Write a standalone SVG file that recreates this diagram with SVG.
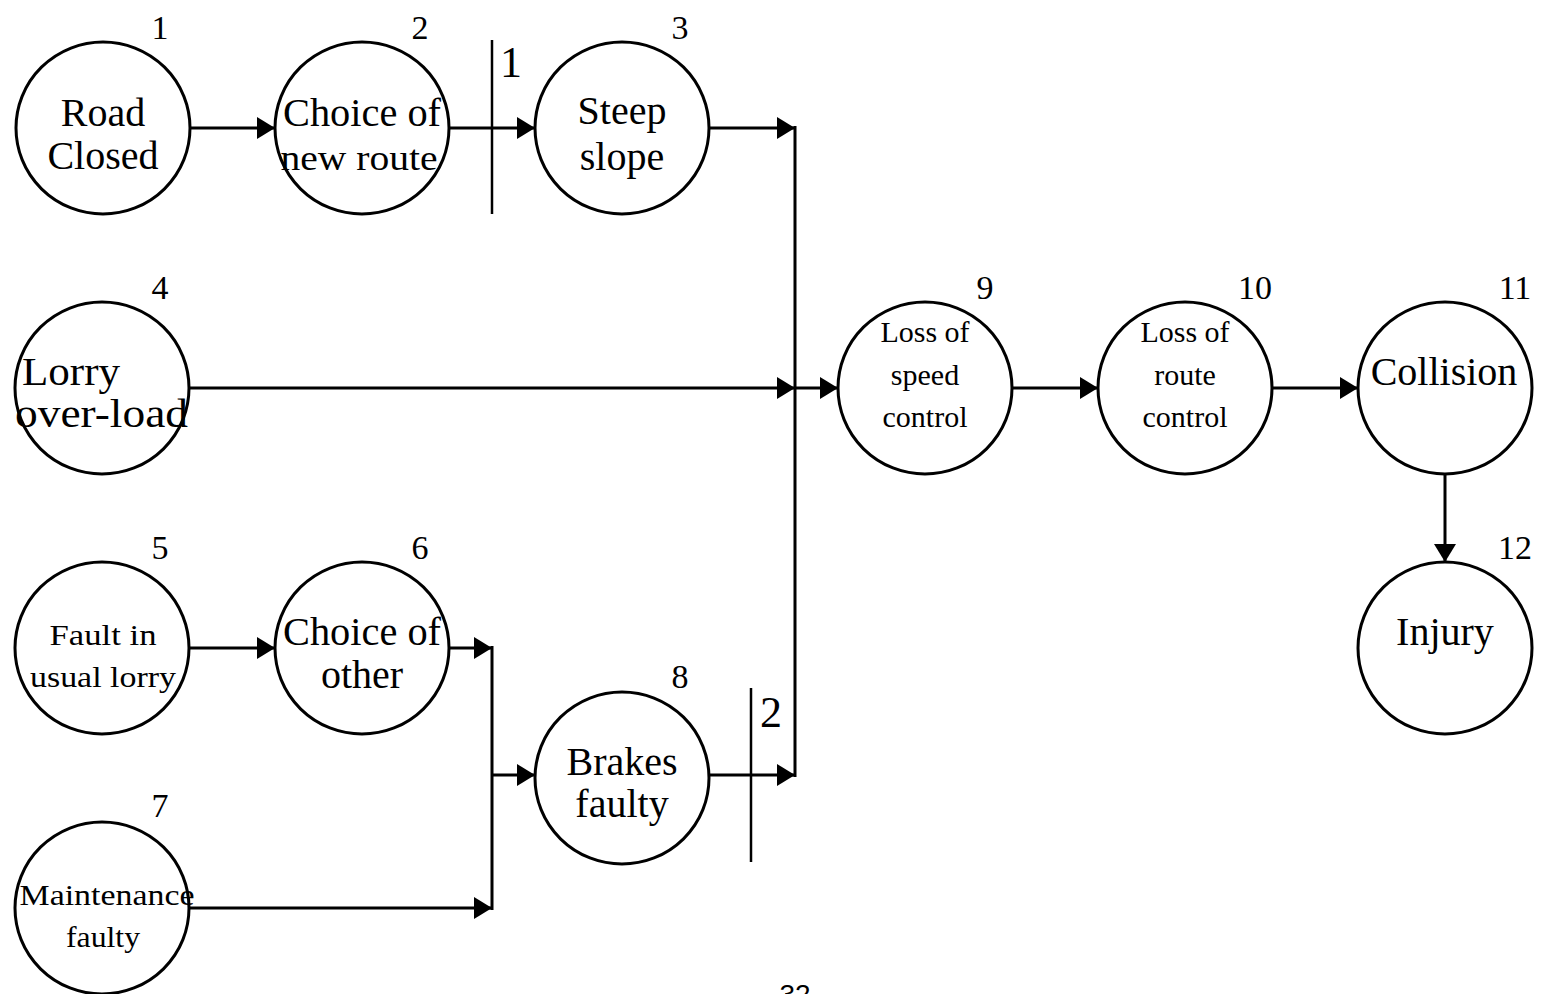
<svg xmlns="http://www.w3.org/2000/svg" width="1541" height="994" viewBox="0 0 1541 994">
<style>
.n{fill:#fff;stroke:#000;stroke-width:3}
.t{font-family:"Liberation Serif",serif;fill:#000;text-anchor:middle}
.b{font-size:40px}
.s{font-size:30px}
.num{font-family:"Liberation Serif",serif;font-size:34px;text-anchor:middle;fill:#000}
.c{stroke:#000;stroke-width:3;fill:none}
.bar{stroke:#000;stroke-width:2.5;fill:none}
</style>
<defs>
<marker id="ah" markerUnits="userSpaceOnUse" markerWidth="20" markerHeight="22" viewBox="0 0 20 22" refX="18" refY="11" orient="auto">
<path d="M0,0 L18,11 L0,22 Z" fill="#000"/>
</marker>
</defs>
<rect width="1541" height="994" fill="#fff"/>
<g id="connectors">
<line class="c" x1="190" y1="128" x2="275" y2="128" marker-end="url(#ah)"/>
<line class="c" x1="450" y1="128" x2="535" y2="128" marker-end="url(#ah)"/>
<line class="c" x1="709" y1="128" x2="795" y2="128" marker-end="url(#ah)"/>
<line class="c" x1="795" y1="126" x2="795" y2="777"/>
<line class="c" x1="190" y1="388" x2="795" y2="388" marker-end="url(#ah)"/>
<line class="c" x1="795" y1="388" x2="838" y2="388" marker-end="url(#ah)"/>
<line class="c" x1="709" y1="775" x2="795" y2="775" marker-end="url(#ah)"/>
<line class="c" x1="190" y1="648" x2="275" y2="648" marker-end="url(#ah)"/>
<line class="c" x1="450" y1="648" x2="492" y2="648" marker-end="url(#ah)"/>
<line class="c" x1="492" y1="646" x2="492" y2="910"/>
<line class="c" x1="190" y1="908" x2="492" y2="908" marker-end="url(#ah)"/>
<line class="c" x1="492" y1="775" x2="535" y2="775" marker-end="url(#ah)"/>
<line class="c" x1="1012" y1="388" x2="1098" y2="388" marker-end="url(#ah)"/>
<line class="c" x1="1272" y1="388" x2="1358" y2="388" marker-end="url(#ah)"/>
<line class="c" x1="1445" y1="474" x2="1445" y2="562" marker-end="url(#ah)"/>
</g>
<g id="cut1">
<line class="bar" x1="492" y1="40" x2="492" y2="214"/>
<text class="t" x="511" y="77" font-size="44">1</text>
</g>
<g id="cut2">
<line class="bar" x1="751" y1="688" x2="751" y2="862"/>
<text class="t" x="771" y="727" font-size="44">2</text>
</g>
<g id="node1">
<ellipse class="n" cx="103" cy="128" rx="87" ry="86"/>
<text class="t b" x="103" y="126">Road</text>
<text class="t b" x="103" y="169">Closed</text>
<text class="num" x="160" y="39">1</text>
</g>
<g id="node2">
<ellipse class="n" cx="362" cy="128" rx="87" ry="86"/>
<text class="t b" x="362" y="126" textLength="158" lengthAdjust="spacingAndGlyphs">Choice of</text>
<text class="t" x="359" y="170" font-size="36" textLength="157" lengthAdjust="spacingAndGlyphs">new route</text>
<text class="num" x="420" y="39">2</text>
</g>
<g id="node3">
<ellipse class="n" cx="622" cy="128" rx="87" ry="86"/>
<text class="t b" x="622" y="124">Steep</text>
<text class="t b" x="622" y="170">slope</text>
<text class="num" x="680" y="39">3</text>
</g>
<g id="node4">
<ellipse class="n" cx="102" cy="388" rx="87" ry="86"/>
<text class="t b" x="22" y="385" style="text-anchor:start" textLength="98" lengthAdjust="spacingAndGlyphs">Lorry</text>
<text class="t b" x="15" y="427" style="text-anchor:start" textLength="173" lengthAdjust="spacingAndGlyphs">over-load</text>
<text class="num" x="160" y="299">4</text>
</g>
<g id="node5">
<ellipse class="n" cx="102" cy="648" rx="87" ry="86"/>
<text class="t" x="103" y="645" font-size="30" textLength="107" lengthAdjust="spacingAndGlyphs">Fault in</text>
<text class="t" x="103" y="687" font-size="30" textLength="146" lengthAdjust="spacingAndGlyphs">usual lorry</text>
<text class="num" x="160" y="559">5</text>
</g>
<g id="node6">
<ellipse class="n" cx="362" cy="648" rx="87" ry="86"/>
<text class="t b" x="362" y="645" textLength="158" lengthAdjust="spacingAndGlyphs">Choice of</text>
<text class="t b" x="362" y="688">other</text>
<text class="num" x="420" y="559">6</text>
</g>
<g id="node7">
<ellipse class="n" cx="102" cy="908" rx="87" ry="86"/>
<text class="t" x="107" y="905" font-size="30" textLength="175" lengthAdjust="spacingAndGlyphs">Maintenance</text>
<text class="t" x="103" y="947" font-size="30" textLength="74" lengthAdjust="spacingAndGlyphs">faulty</text>
<text class="num" x="160" y="817">7</text>
</g>
<g id="node8">
<ellipse class="n" cx="622" cy="778" rx="87" ry="86"/>
<text class="t b" x="622" y="775">Brakes</text>
<text class="t b" x="622" y="817">faulty</text>
<text class="num" x="680" y="688">8</text>
</g>
<g id="node9">
<ellipse class="n" cx="925" cy="388" rx="87" ry="86"/>
<text class="t s" x="925" y="342">Loss of</text>
<text class="t s" x="925" y="385">speed</text>
<text class="t s" x="925" y="427">control</text>
<text class="num" x="985" y="299">9</text>
</g>
<g id="node10">
<ellipse class="n" cx="1185" cy="388" rx="87" ry="86"/>
<text class="t s" x="1185" y="342">Loss of</text>
<text class="t s" x="1185" y="385">route</text>
<text class="t s" x="1185" y="427">control</text>
<text class="num" x="1255" y="299">10</text>
</g>
<g id="node11">
<ellipse class="n" cx="1445" cy="388" rx="87" ry="86"/>
<text class="t b" x="1444" y="385">Collision</text>
<text class="num" x="1515" y="299">11</text>
</g>
<g id="node12">
<ellipse class="n" cx="1445" cy="648" rx="87" ry="86"/>
<text class="t b" x="1445" y="645">Injury</text>
<text class="num" x="1515" y="559">12</text>
</g>
<text x="795" y="1004" font-family="Liberation Sans, sans-serif" font-size="28" text-anchor="middle" fill="#000">32</text>
</svg>
